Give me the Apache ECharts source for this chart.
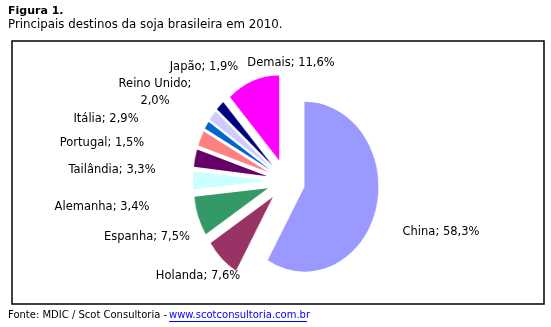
<html lang="pt">
<head>
<meta charset="UTF-8">
<title>Figura 1</title>
<script src="https://cdn.jsdelivr.net/npm/echarts@6/dist/echarts.min.js"></script>
<style>
body{margin:0;background:#fff;}
#pie,#main{position:absolute;left:0;top:0;width:551px;height:327px;}
/* o grafico original esta achatado na horizontal */
#pie{transform-origin:286px 181px;transform:scaleX(0.87);}
</style>
</head>
<body>
<div id="pie"></div>
<div id="main"></div>
<script type="text/javascript">
var paises = ['China','Holanda','Espanha','Alemanha','Tailândia','Itália','Portugal','Reino Unido','Japão','Demais'];
var valores = [58.3, 7.6, 7.5, 3.4, 3.3, 2.9, 1.5, 2.0, 1.9, 11.6];
var cores = ['#9999FF','#993366','#339966','#CCFFFF','#660066','#FF8080','#0066CC','#CCCCFF','#000080','#FF00FF'];
// posicao dos rotulos (centro do texto)
var posRotulo = [[441,232],[198,276],[147,237],[102,207],[112,170],[106,119],[102,143],[155,93],[204,67],[291,63]];

var fonte = 'DejaVu Sans';

function rotulo(i){
	var pct = valores[i].toFixed(1).replace('.', ',') + '%';
	if(paises[i] == 'Reino Unido') return paises[i] + ';\n' + pct;
	return paises[i] + '; ' + pct;
}

var pieChart = echarts.init(document.getElementById('pie'));
pieChart.setOption({
	animation: false,
	series: [{
		type: 'pie',
		center: [286, 181],
		radius: 85,
		startAngle: 90,
		clockwise: true,
		selectedMode: 'multiple',
		selectedOffset: 22,
		label: {show: false},
		labelLine: {show: false},
		emphasis: {scale: false},
		itemStyle: {borderWidth: 0},
		data: paises.map(function(p, i){
			return {name: p, value: valores[i], selected: true, itemStyle: {color: cores[i]}};
		})
	}]
});

var textos = [];
for(var i = 0; i < paises.length; i++){
	textos.push({
		type: 'text',
		x: posRotulo[i][0],
		y: posRotulo[i][1],
		style: {
			text: rotulo(i),
			font: '11.5px "' + fonte + '"',
			fill: '#000',
			align: 'center',
			verticalAlign: 'middle',
			lineHeight: 17
		}
	});
}

var mainChart = echarts.init(document.getElementById('main'));
mainChart.setOption({
	animation: false,
	graphic: [
		{type: 'text', x: 8, y: 6, style: {text: 'Figura 1.', font: 'bold 11px "' + fonte + '"', fill: '#000'}},
		{type: 'text', x: 8, y: 19, style: {text: 'Principais destinos da soja brasileira em 2010.', font: '11.8px "' + fonte + '"', fill: '#000'}},
		{type: 'rect', shape: {x: 12, y: 41, width: 532, height: 263}, style: {fill: 'none', stroke: '#000', lineWidth: 1.5}},
		{type: 'text', x: 8, y: 310, style: {text: 'Fonte: MDIC / Scot Consultoria -', font: '10px "' + fonte + '"', fill: '#000'}},
		{type: 'text', x: 169, y: 310, style: {text: 'www.scotconsultoria.com.br', font: '10px "' + fonte + '"', fill: '#0000FF'}},
		{type: 'line', shape: {x1: 169, y1: 321.5, x2: 307, y2: 321.5}, style: {stroke: '#0000FF', lineWidth: 1}}
	].concat(textos)
});
</script>
</body>
</html>
